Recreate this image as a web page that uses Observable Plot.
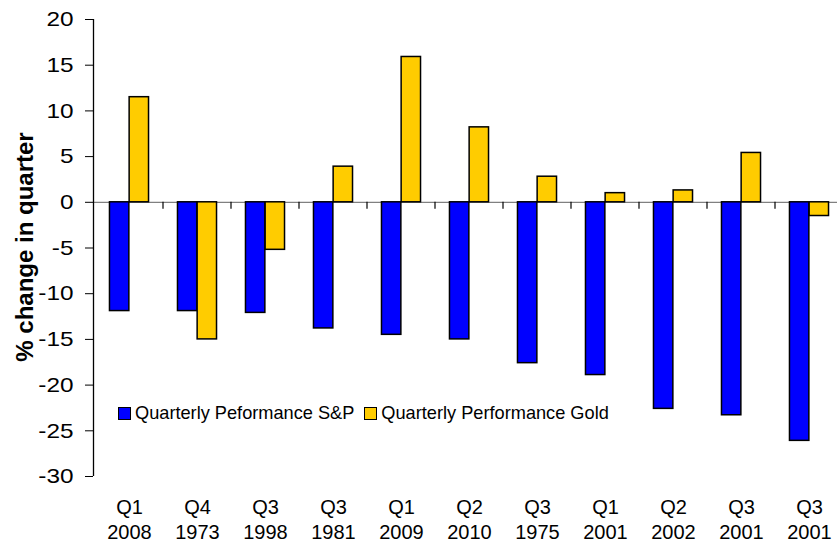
<!DOCTYPE html>
<html>
<head>
<meta charset="utf-8">
<script src="https://cdn.jsdelivr.net/npm/d3@7"></script>
<script src="https://cdn.jsdelivr.net/npm/@observablehq/plot@0.6"></script>
<style>
  html, body { margin: 0; padding: 0; background: #fff; overflow: hidden; }
  #wrap { position: relative; width: 837px; height: 542px; overflow: hidden; font-family: "Liberation Sans", Arial, sans-serif; }
  #wrap svg { max-width: none !important; }
  #ytitle { position: absolute; left: 25px; top: 246.5px; transform: translate(-50%, -50%) rotate(-90deg); font-weight: bold; font-size: 24px; white-space: nowrap; color: #000; }
  #legend { position: absolute; left: 118px; top: 402.5px; display: flex; align-items: center; font-size: 18.2px; color: #000; white-space: nowrap; }
  .sw { display: inline-block; width: 11px; height: 11px; border: 1px solid #000; margin-right: 4px; }
  .item { display: flex; align-items: center; margin-right: 10px; }
</style>
</head>
<body>
<div id="wrap"></div>
<script>
const quarters = ["Q1","Q4","Q3","Q3","Q1","Q2","Q3","Q1","Q2","Q3","Q3"];
const years = ["2008","1973","1998","1981","2009","2010","1975","2001","2002","2001","2001"];
const spValues = [-11.9,-11.9,-12.1,-13.8,-14.5,-15.0,-17.6,-18.9,-22.6,-23.3,-26.1];
const goldValues = [11.5,-15.0,-5.2,3.9,15.9,8.2,2.8,1.0,1.3,5.4,-1.5];
const seriesNames = ["Quarterly Peformance S&P","Quarterly Performance Gold"];
const seriesColors = ["#0000FF","#FFCC00"];
const yTicks = [-30,-25,-20,-15,-10,-5,0,5,10,15,20];

const idx = quarters.map((_, i) => i);
const spRows = idx.map(i => ({i, value: spValues[i]}));
const goldRows = idx.map(i => ({i, value: goldValues[i]}));

const W = 851, mL = 93, mR = 7;
const step = (W - mL - mR) / idx.length;
const group = 0.576 * step;
const pad = (step - group) / 2;
const bw = group / 2;

const plot = Plot.plot({
  width: W,
  height: 542,
  marginLeft: mL,
  marginRight: mR,
  marginTop: 19,
  marginBottom: 66,
  style: {fontFamily: "Liberation Sans, Arial, sans-serif", background: "white", overflow: "visible", maxWidth: "none"},
  x: {domain: idx, padding: 0, axis: null},
  y: {domain: [-30, 20], axis: null},
  marks: [
    Plot.ruleY([0], {stroke: "#808080", strokeWidth: 1.3}),
    Plot.barY(spRows, {x: "i", y: "value", fill: seriesColors[0], stroke: "#000", strokeWidth: 1.5,
      insetLeft: pad, insetRight: step - pad - bw}),
    Plot.barY(goldRows, {x: "i", y: "value", fill: seriesColors[1], stroke: "#000", strokeWidth: 1.5,
      insetLeft: pad + bw, insetRight: pad}),
    Plot.axisY({ticks: yTicks, tickFormat: d => String(d), tickSize: 8, tickPadding: 12, fontSize: 21, label: null, stroke: "#000", color: "#000"}),
    Plot.axisX({tickFormat: i => quarters[i] + "\n" + years[i], tickSize: 0, tickPadding: 20, fontSize: 20, lineHeight: 1.24, label: null, color: "#000"})
  ]
});

document.getElementById("wrap").appendChild(plot);

// axis line and category boundary ticks (Excel-style), via Plot's scales
const xs = plot.scale("x"), ys = plot.scale("y");
const svg = d3.select(plot);
const y0 = ys.apply(0);
const g = svg.append("g");
g.append("line").attr("x1", mL + 0.5).attr("x2", mL + 0.5)
  .attr("y1", ys.apply(20)).attr("y2", ys.apply(-30)).attr("stroke", "#000").attr("stroke-width", 1.3);
idx.slice(1).forEach(i => {
  const x = xs.apply(i);
  g.append("line").attr("x1", x).attr("x2", x).attr("y1", y0).attr("y2", y0 + 7)
    .attr("stroke", "#000").attr("stroke-width", 1.2);
});

// the reference's value labels are drawn slightly wider: stretch them horizontally about their right anchor
svg.selectAll('g[aria-label="y-axis tick label"] text').each(function() {
  const el = d3.select(this);
  const tr = el.attr("transform");
  if (tr && tr.includes("translate")) {
    el.attr("transform", tr + " scale(1.16,1)");
  } else {
    const x = +el.attr("x") || 0, y = +el.attr("y") || 0;
    el.attr("x", null).attr("y", null).attr("transform", `translate(${x},${y}) scale(1.16,1)`);
  }
});

const t = document.createElement("div");
t.id = "ytitle"; t.textContent = "% change in quarter";
document.getElementById("wrap").appendChild(t);

const lg = document.createElement("div");
lg.id = "legend";
seriesNames.forEach((s, k) => {
  const it = document.createElement("span"); it.className = "item";
  const sw = document.createElement("span"); sw.className = "sw"; sw.style.background = seriesColors[k];
  it.appendChild(sw); it.appendChild(document.createTextNode(s));
  lg.appendChild(it);
});
document.getElementById("wrap").appendChild(lg);
</script>
</body>
</html>
